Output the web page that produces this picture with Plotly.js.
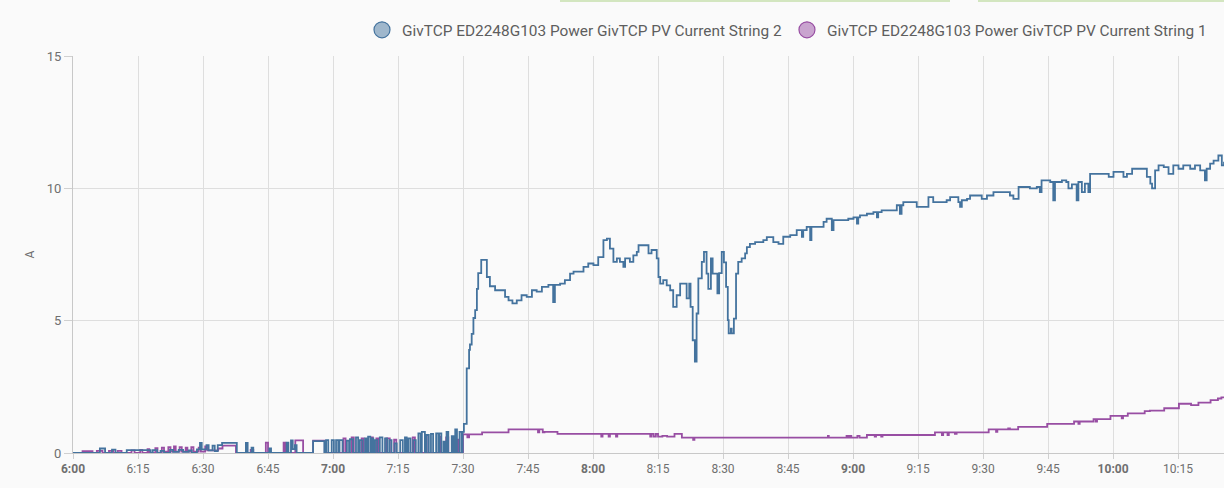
<!DOCTYPE html>
<html>
<head>
<meta charset="utf-8">
<script src="https://cdn.plot.ly/plotly-3.0.1.min.js"></script>
<style>
  html, body { margin: 0; padding: 0; background: #fafafa; }
  #chart { width: 1224px; height: 488px; }
</style>
</head>
<body>
<div id="chart"></div>
<script>
// ---- DATA ----
const baseDate = '2024-03-10';
const seriesNames = [
  'GivTCP ED2248G103 Power GivTCP PV Current String 2',
  'GivTCP ED2248G103 Power GivTCP PV Current String 1'
];
// [minutes after 06:00, amps]
const string2Points = [
  [0,0],[6.2,0.17],[7.4,0],[9.0,0.13],[9.8,0],[12.4,0.11],[17.9,0],[18.4,0.11],[19.4,0],[20.2,0.08],[21.0,0],
  [22.4,0.12],[23.1,0.04],[24.4,0.12],[25.4,0.04],[26.7,0.1],[27.4,0],[28.6,0.14],[29.3,0.38],[29.7,0.14],
  [30.8,0.3],[31.3,0.1],[32.2,0.28],[32.7,0.07],[33.4,0.3],[34.4,0.38],[37.8,0],[39.9,0.38],[40.3,0],
  [41.2,0.2],[41.6,0],[45.3,0.17],[45.7,0],[49.3,0.39],[49.7,0],[50.3,0.48],[50.7,0.15],[51.2,0.3],[51.6,0],
  [55.4,0.45],[58.0,0],
  [58.4,0.49],[58.9,0],[59.7,0.49],[60.2,0],[60.7,0.49],[61.2,0],[61.5,0.49],[62.2,0],[63.2,0.47],[63.7,0],
  [63.9,0.52],[64.6,0],[65.3,0.59],[65.8,0],[66.2,0.49],[66.8,0],[67.4,0.55],[67.8,0],[68.1,0.62],[68.6,0],
  [68.9,0.55],[69.3,0],[69.7,0.49],[70.2,0],[70.8,0.59],[71.4,0],[72.0,0.55],[72.5,0],[73.0,0.49],[73.5,0],
  [74.2,0.36],[74.7,0],[75.5,0.49],[76.1,0],[76.6,0.59],[77.0,0],[77.4,0.55],[77.9,0],[78.5,0.49],[79.1,0],
  [79.7,0.74],[80.2,0],[80.5,0.8],[81.2,0],[81.6,0.68],[82.1,0],[82.6,0.72],[83.1,0],[83.8,0.74],[84.3,0],
  [84.5,0.74],[85.0,0],[85.5,0.43],[85.9,0],[86.2,0.8],[86.6,0],[87.4,0.64],[87.8,0],[88.2,0.89],[88.6,0],
  [89.2,0.8],[89.7,0],[89.9,0.8],[90.2,1.1],
  [90.85,3.2],[91.4,3.9],[91.6,4.1],[92.0,4.5],[92.4,5.1],[92.8,5.4],[93.2,6.2],[93.5,6.8],[94.2,7.3],
  [95.5,6.65],[96.2,6.3],[97.4,6.15],[99.7,5.9],[100.5,5.77],[101.4,5.65],[102.4,5.77],[103.5,5.96],
  [104.7,5.9],[105.9,6.15],[107.0,6.1],[108.2,6.28],[109.7,6.35],[110.8,5.7],[111.2,6.35],[112.4,6.4],
  [113.5,6.53],[114.7,6.78],[115.5,6.85],[117.8,7.03],[118.9,7.16],[120.1,7.1],[121.2,7.4],[122.4,8.04],
  [123.2,8.1],[123.9,7.72],[124.7,7.22],[125.5,7.35],[126.2,7.22],[127.0,7.03],[127.4,7.35],[128.5,7.22],
  [129.3,7.47],[130.1,7.6],[130.5,7.85],[132.8,7.54],[133.5,7.67],[134.7,7.35],[135.1,6.65],[135.5,6.4],
  [136.2,6.53],[137.0,6.33],[137.8,6.15],[138.5,5.52],[139.3,5.96],[140.1,6.4],[141.6,5.84],[142.2,6.4],
  [142.5,5.52],[143.0,4.26],[143.5,3.45],[143.9,5.27],[144.3,6.6],[145.1,7.22],[145.6,7.6],[146.2,6.78],
  [146.6,6.2],[147.2,7.35],[147.6,6.78],[148.7,6.03],[149.1,6.8],[149.7,7.6],[150.2,7.2],[150.7,6.28],
  [151.1,5.02],[151.3,4.52],[151.8,4.7],[152.0,4.52],[152.5,5.08],[153.0,6.78],[153.5,7.22],[154.3,7.35],
  [155.1,7.54],[155.5,7.78],[156.2,7.9],[157.4,7.97],[159.3,8.04],[160.1,8.16],[161.6,7.97],[162.8,7.9],
  [163.9,8.17],[165.5,8.23],[167.0,8.42],[168.2,8.17],[168.5,8.42],[169.3,8.54],[170.1,8.04],[170.4,8.54],
  [172.8,8.54],[173.2,8.73],[173.9,8.85],[175.1,8.42],[175.5,8.8],[178.9,8.85],[180.1,8.9],[180.9,8.67],
  [181.2,8.9],[181.6,8.98],[183.2,9.04],[184.7,9.1],[185.5,8.9],[185.8,9.1],[186.6,9.17],[190.1,9.36],
  [190.8,9.04],[191.2,9.36],[191.6,9.48],[194.7,9.3],[196.8,9.3],[197.4,9.67],[198.5,9.48],[201.6,9.55],
  [202.4,9.67],[204.3,9.48],[204.7,9.3],[205.1,9.55],[206.3,9.6],[207.0,9.73],[209.7,9.6],[210.9,9.73],
  [212.4,9.86],[216.2,9.73],[217.0,9.6],[218.2,10.05],[220.8,10.0],[222.4,10.05],[223.1,9.86],[223.5,10.3],
  [225.5,10.24],[226.2,9.55],[226.6,10.24],[228.2,10.3],[229.2,10.24],[229.7,10.0],[230.5,10.15],[231.6,9.55],
  [232.0,10.24],[232.8,9.86],[233.5,10.18],[234.3,9.86],[234.7,10.55],[239.0,10.43],[240.1,10.62],
  [242.4,10.43],[243.2,10.55],[244.4,10.74],[247.8,10.43],[248.6,10.18],[249.0,10.0],[249.7,10.68],
  [250.5,10.87],[251.7,10.8],[252.8,10.55],[253.9,10.87],[255.1,10.74],[256.2,10.87],[257.8,10.74],
  [258.9,10.87],[260.1,10.68],[261.2,10.3],[261.6,10.74],[262.4,10.93],[263.2,11.05],[264.3,11.24],
  [265.1,10.87],[265.6,11.0]
];
const string1Points = [
  [0,0],[2.2,0.07],[4.5,0],[5.5,0.08],[6.8,0],[8.3,0.08],[9.3,0],[10.3,0.08],[11.2,0],[13.5,0.1],[14.2,0],
  [15.5,0.12],[16.0,0],[17.2,0.15],[17.6,0],[19.0,0.18],[19.5,0],[20.5,0.2],[21.0,0.05],[22.0,0.22],[22.5,0.05],
  [23.3,0.25],[23.7,0.05],[24.6,0.22],[25.1,0.05],[26.0,0.2],[26.4,0.05],[27.3,0.22],[27.8,0.05],[29.0,0.2],
  [29.5,0.05],[30.5,0.25],[31.0,0.1],[33.5,0.17],[34.5,0.28],[37.6,0],[41.0,0.12],[41.6,0],[44.5,0.39],[45.0,0],
  [48.6,0.39],[49.0,0],[51.3,0.48],[53.1,0],[55.4,0.47],[58.1,0],
  [62.4,0.55],[62.9,0],[64.3,0.59],[64.8,0],[66.6,0.55],[67.1,0],[68.8,0.59],[69.2,0],[70.0,0.55],[70.4,0],
  [72.3,0.55],[73.1,0],[74.1,0.5],[74.6,0],[78.4,0.59],[78.9,0],[81.2,0.62],[81.6,0],[84.5,0.62],[84.9,0],
  [86.1,0.59],[86.6,0],[88.5,0.5],[88.9,0],[90.0,0.7],[91.0,0.59],[91.4,0.7],
  [94.4,0.78],[100.5,0.89],[107.3,0.78],[107.6,0.89],[108.4,0.78],[108.8,0.8],[111.8,0.72],[121.9,0.62],
  [122.2,0.72],[123.6,0.62],[123.9,0.72],[125.3,0.62],[125.6,0.72],[133.2,0.62],[133.5,0.72],[134.0,0.62],
  [134.5,0.72],[135.0,0.62],[136.0,0.65],[137.1,0.62],[138.8,0.72],[140.5,0.58],[143.1,0.5],[143.4,0.58],
  [174.2,0.65],[174.4,0.58],[178.5,0.65],[178.9,0.58],[179.3,0.65],[179.6,0.58],[181.0,0.65],[181.5,0.58],
  [183.2,0.68],[185.0,0.62],[185.3,0.68],[186.5,0.62],[186.8,0.68],[198.9,0.78],[200.5,0.68],[200.8,0.78],
  [201.8,0.68],[202.1,0.78],[203.5,0.72],[203.9,0.78],[211.3,0.89],[213.0,0.8],[213.3,0.89],[215.8,0.93],
  [216.2,0.89],[218.1,0.99],[224.8,1.1],[231.0,1.19],[232.0,1.1],[232.3,1.19],[235.5,1.28],[236.0,1.19],
  [236.3,1.28],[239.4,1.4],[242.0,1.31],[242.3,1.4],[243.4,1.5],[247.3,1.58],[248.5,1.6],[251.8,1.69],
  [255.2,1.86],[258.0,1.81],[259.7,1.9],[262.5,2.0],[264.2,2.06],[265.0,2.1],[265.6,2.1]
];
const tickLabels = ['6:00','6:15','6:30','6:45','7:00','7:15','7:30','7:45','8:00','8:15','8:30','8:45',
  '9:00','9:15','9:30','9:45','10:00','10:15'];
const yTicks = [0, 5, 10, 15];
const seriesColors = ['#44739e', '#984ea3'];
const seriesFill = ['rgba(68,115,158,0.5)', 'rgba(152,78,163,0.5)'];

// ---- helpers ----
function pad(n) { return (n < 10 ? '0' : '') + n; }
function toStamp(minAfterSix) {
  const totalSec = Math.round(minAfterSix * 60) + 6 * 3600;
  const h = Math.floor(totalSec / 3600), m = Math.floor((totalSec % 3600) / 60), s = totalSec % 60;
  return baseDate + ' ' + pad(h) + ':' + pad(m) + ':' + pad(s);
}
function labelToStamp(lbl) {
  const [h, m] = lbl.split(':').map(Number);
  return baseDate + ' ' + pad(h) + ':' + pad(m) + ':00';
}

const traces = [
  {
    x: string1Points.map(p => toStamp(p[0])), y: string1Points.map(p => p[1]),
    type: 'scatter', mode: 'lines', line: {color: seriesColors[1], width: 1.8, shape: 'hv'},
    showlegend: false, hoverinfo: 'skip'
  },
  {
    x: string2Points.map(p => toStamp(p[0])), y: string2Points.map(p => p[1]),
    type: 'scatter', mode: 'lines', line: {color: seriesColors[0], width: 1.8, shape: 'hv'},
    showlegend: false, hoverinfo: 'skip'
  },
  {
    x: [null], y: [null], type: 'scatter', mode: 'markers', name: seriesNames[0],
    marker: {symbol: 'circle', size: 16, color: seriesFill[0], line: {color: seriesColors[0], width: 1.2}}
  },
  {
    x: [null], y: [null], type: 'scatter', mode: 'markers', name: seriesNames[1],
    marker: {symbol: 'circle', size: 16, color: seriesFill[1], line: {color: seriesColors[1], width: 1.2}}
  }
];

const layout = {
  width: 1224, height: 488,
  margin: {l: 73, r: 0, t: 56, b: 35, pad: 0},
  paper_bgcolor: '#fafafa', plot_bgcolor: '#fafafa',
  font: {family: 'Roboto, sans-serif', size: 13, color: '#6f6f6f'},
  showlegend: true,
  legend: {
    orientation: 'h', x: 1 - 12 / 1151, xanchor: 'right', y: 1.022, yanchor: 'bottom',
    font: {family: 'Roboto, sans-serif', size: 15.4, color: '#5e5e5e'},
    bgcolor: 'rgba(0,0,0,0)', itemclick: false
  },
  xaxis: {
    type: 'date',
    range: [toStamp(0), toStamp(265.6)],
    tickmode: 'array',
    tickvals: tickLabels.map(labelToStamp),
    ticktext: tickLabels.map(l => l.endsWith(':00') ? '<b>' + l + '</b>' : l),
    showgrid: true, gridcolor: '#dedede', gridwidth: 1,
    showline: true, linecolor: '#c8c8c8', linewidth: 1,
    ticks: 'outside', ticklen: 5, tickcolor: '#d0d0d0',
    tickfont: {family: 'Roboto, sans-serif', size: 12, color: '#6f6f6f'},
    zeroline: false, fixedrange: true
  },
  yaxis: {
    range: [0, 15],
    tickmode: 'array', tickvals: yTicks, ticktext: yTicks.map(String),
    showgrid: true, gridcolor: '#dedede', gridwidth: 1,
    showline: true, linecolor: '#c8c8c8', linewidth: 1,
    ticks: 'outside', ticklen: 8, tickcolor: '#d0d0d0',
    tickfont: {family: 'Roboto, sans-serif', size: 13, color: '#6f6f6f'},
    zeroline: false,
    title: {text: 'A', font: {family: 'Roboto, sans-serif', size: 12, color: '#6f6f6f'}, standoff: 9},
    fixedrange: true
  },
  shapes: [
    {type: 'rect', xref: 'paper', yref: 'paper', x0: (560 - 73) / 1151, x1: (950 - 73) / 1151,
     y0: 1 + 54 / 397, y1: 1 + 56 / 397, fillcolor: '#d3e6c0', line: {width: 0}, layer: 'above'},
    {type: 'rect', xref: 'paper', yref: 'paper', x0: (978 - 73) / 1151, x1: 1,
     y0: 1 + 54 / 397, y1: 1 + 56 / 397, fillcolor: '#d3e6c0', line: {width: 0}, layer: 'above'}
  ]
};

Plotly.newPlot('chart', traces, layout, {displayModeBar: false, staticPlot: true});
</script>
</body>
</html>
